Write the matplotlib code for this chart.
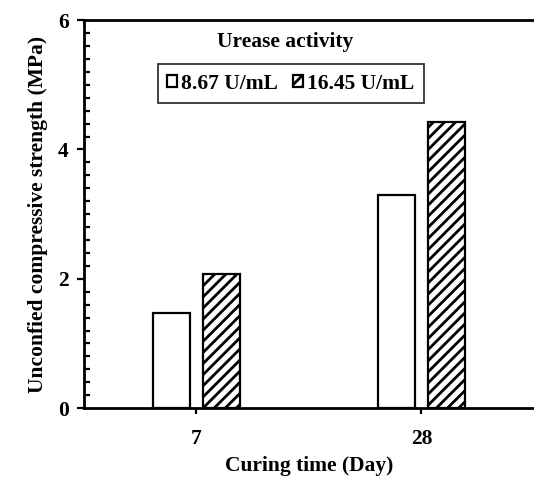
import matplotlib
matplotlib.use("Agg")
import matplotlib.pyplot as plt
import numpy as np
from matplotlib.ticker import MultipleLocator

plt.rcParams["font.family"] = ["Liberation Serif", "DejaVu Serif"]
plt.rcParams["font.weight"] = "bold"
plt.rcParams["hatch.linewidth"] = 2.0

# data
days = ["7", "28"]
low_activity = [1.47, 3.30]    # 8.67 U/mL
high_activity = [2.08, 4.42]   # 16.45 U/mL
series_labels = ["8.67 U/mL", "16.45 U/mL"]

fig = plt.figure(figsize=(5.34, 4.79), dpi=100)
ax = fig.add_axes([0.157, 0.148, 0.843, 0.81])

x = np.arange(len(days))
w = 0.165
ax.bar(x - 0.111, low_activity, w, color="white", edgecolor="black", lw=1.6, label=series_labels[0])
ax.bar(x + 0.111, high_activity, w, color="white", edgecolor="black", lw=1.6, hatch="///", label=series_labels[1])

# Formatting
ax.set_xlim(-0.5, 1.5)
ax.set_ylim(0, 6)
ax.set_xticks(x)
ax.set_xticklabels(days)
ax.yaxis.set_major_locator(MultipleLocator(2))
ax.yaxis.set_minor_locator(MultipleLocator(0.2))
ax.tick_params(axis="y", which="major", direction="out", length=5, width=1.6, labelsize=15.5, pad=6)
ax.tick_params(axis="y", which="minor", direction="in", length=4, width=1.6)
ax.tick_params(axis="x", which="major", direction="out", length=4, width=1.6, labelsize=15.5, pad=11)
for s in ["left", "top", "bottom"]:
    ax.spines[s].set_linewidth(2)
ax.spines["right"].set_visible(False)

ax.set_xlabel("Curing time (Day)", fontsize=15.5, fontweight="bold", labelpad=5)
ax.set_ylabel("Unconfied compressive strength (MPa)", fontsize=15.5, fontweight="bold", labelpad=7)

ax.text(0.447, 0.943, "Urease activity", transform=ax.transAxes, ha="center", va="center",
        fontsize=15.5, fontweight="bold")
leg = ax.legend(loc="center", bbox_to_anchor=(0.46, 0.836), ncol=2, fontsize=15.5,
                handlelength=0.45, handleheight=0.45, handletextpad=0.2, columnspacing=0.7,
                frameon=True, fancybox=False, borderpad=0.45, borderaxespad=0)
leg.get_frame().set_edgecolor("black")
leg.get_frame().set_linewidth(1.3)

fig.savefig("out.png", dpi=100)
